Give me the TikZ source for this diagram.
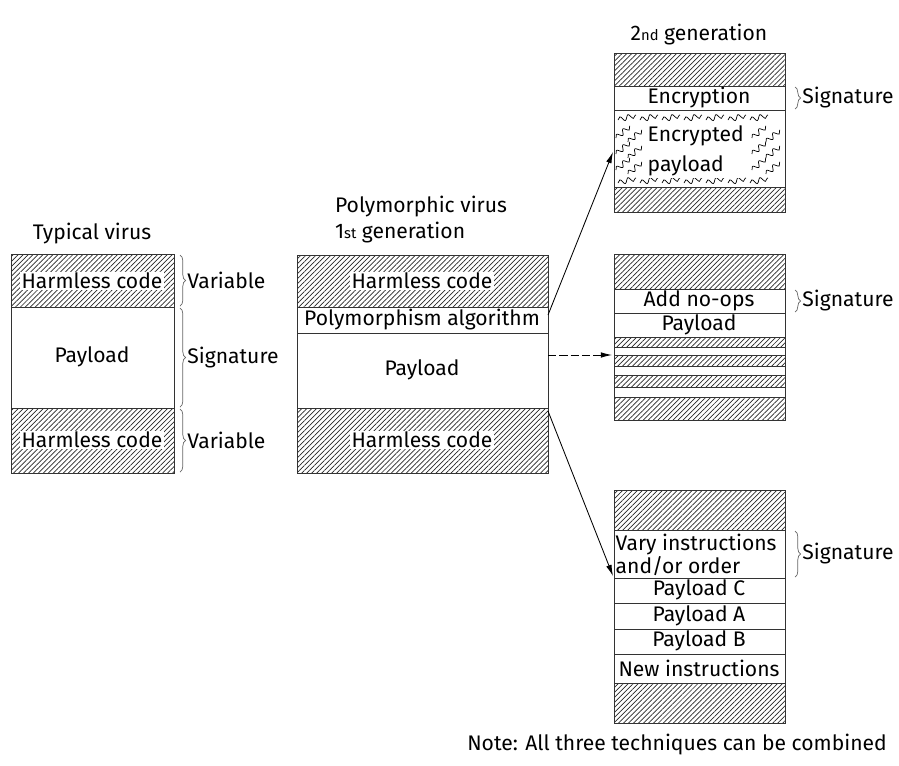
\documentclass[tikz,border=0pt]{standalone}
\usepackage{fontspec}
\setmainfont{Fira Sans}
\usetikzlibrary{arrows.meta,patterns.meta,decorations.pathreplacing,decorations.pathmorphing}

\tikzset{
  hatch/.style={draw=black!80, line width=0.6pt,
    pattern={Lines[angle=45, distance=2.5pt, line width=0.5pt]}, pattern color=black!85},
  blank/.style={draw=black!80, line width=0.6pt, fill=white},
  txt/.style={font=\fontsize{15}{17}\selectfont, inner sep=1pt},
  cover/.style={txt, fill=white},
  sig/.style={decorate, decoration={brace, amplitude=4pt}, draw=black!60, line width=0.5pt},
  wig/.style={decorate, decoration={snake, segment length=6pt, amplitude=1.8pt}, line width=0.5pt},
  link/.style={-{Latex[length=8pt,width=4pt]}, line width=0.6pt}
}
\newcommand{\sm}[1]{{\fontsize{10.5}{12}\selectfont #1}}

\begin{document}
\begin{tikzpicture}[x=0.025cm, y=-0.025cm]
\useasboundingbox (0,0) rectangle (899,765);

% typical virus
\node[txt, anchor=base] (typ) at (92,239) {Typical virus};
\draw[hatch] (11,254) rectangle (174,307);
\draw[blank] (11,307) rectangle (174,408);
\draw[hatch] (11,408) rectangle (174,473);
\node[cover] (tharm1) at (92,281) {Harmless code};
\node[txt] (tpay) at (92,357) {Payload};
\node[cover] (tharm2) at (92,440) {Harmless code};
\draw[sig] (180,255) -- (180,306) node[midway, right=4pt, txt] (tvar1) {Variable};
\draw[sig] (180,308) -- (180,407) node[midway, right=4pt, txt] (tsig) {Signature};
\draw[sig] (180,409) -- (180,472) node[midway, right=4pt, txt] (tvar2) {Variable};

% 1st generation
\node[txt, align=left, anchor=south, font=\fontsize{15}{18.5}\selectfont] (poly) at (421,245)
  {Polymorphic virus\\1\sm{st} generation};
\draw[hatch] (297,255) rectangle (548,307);
\draw[blank] (297,307) rectangle (548,333);
\draw[blank] (297,333) rectangle (548,408);
\draw[hatch] (297,408) rectangle (548,473);
\node[cover] (pharm1) at (422,281) {Harmless code};
\node[txt] (palg) at (422,320) {Polymorphism algorithm};
\node[txt] (ppay) at (422,370) {Payload};
\node[cover] (pharm2) at (422,440) {Harmless code};

% 2nd generation: encryption
\node[txt] (gen2) at (699,35) {2\sm{nd} generation};
\draw[hatch] (614,53) rectangle (785,86);
\draw[blank] (614,86) rectangle (785,110);
\draw[blank] (614,110) rectangle (785,187);
\draw[hatch] (614,187) rectangle (785,212);
\node[txt] (encr) at (699,98) {Encryption};
\foreach \x in {618,640,...,762} {
  \draw[wig] (\x,120) -- ++(18,-5);
  \draw[wig] (\x,183) -- ++(18,-5);
}
\foreach \y in {138,154,170} {
  \draw[wig] (616,\y) -- ++(14,-12);
  \draw[wig] (628,\y+4) -- ++(14,-12);
  \draw[wig] (752,\y) -- ++(14,-12);
  \draw[wig] (766,\y+4) -- ++(14,-12);
}
\node[txt, fill=white, align=left, anchor=west, font=\fontsize{15}{21.5}\selectfont]
  (encp) at (646,151) {Encrypted\\payload};
\draw[sig] (795,87) -- (795,109) node[midway, right=4pt, txt] (esig) {Signature};

% 2nd generation: no-ops
\draw[hatch] (614,254) rectangle (785,289);
\draw[blank] (614,289) rectangle (785,313);
\draw[blank] (614,313) rectangle (785,337);
\foreach \a/\b in {337/347,355/366,375/387,397/420}
  \draw[hatch] (614,\a) rectangle (785,\b);
\foreach \a/\b in {347/355,366/375,387/397}
  \draw[blank] (614,\a) rectangle (785,\b);
\node[txt] (nops) at (699,301) {Add no-ops};
\node[txt] (npay) at (699,325) {Payload};
\draw[sig] (795,290) -- (795,312) node[midway, right=4pt, txt] (nsig) {Signature};

% 2nd generation: reorder
\draw[hatch] (614,490) rectangle (785,530);
\foreach \a/\b in {530/578,578/603,603/629,629/654,654/683}
  \draw[blank] (614,\a) rectangle (785,\b);
\draw[hatch] (614,683) rectangle (785,723);
\node[txt, align=left, anchor=west, font=\fontsize{15}{16.5}\selectfont]
  (vary) at (614,555) {Vary instructions\\and/or order};
\node[txt] (payc) at (699,590) {Payload C};
\node[txt] (paya) at (699,616) {Payload A};
\node[txt] (payb) at (699,641) {Payload B};
\node[txt] (newi) at (699,668) {New instructions};
\draw[sig] (795,531) -- (795,577) node[midway, right=4pt, txt] (rsig) {Signature};

\node[txt] (note) at (677,745) {Note: All three techniques can be combined};

% links
\coordinate (src1) at (548,315);
\coordinate (dst1) at (613,152);
\coordinate (src2) at (548,355);
\coordinate (dst2) at (612,355);
\coordinate (src3) at (548,411);
\coordinate (dst3) at (613,576);
\draw[link] (src1) -- (dst1);
\draw[link, dash pattern=on 6pt off 2pt] (src2) -- (dst2);
\draw[link] (src3) -- (dst3);
\end{tikzpicture}
\end{document}
